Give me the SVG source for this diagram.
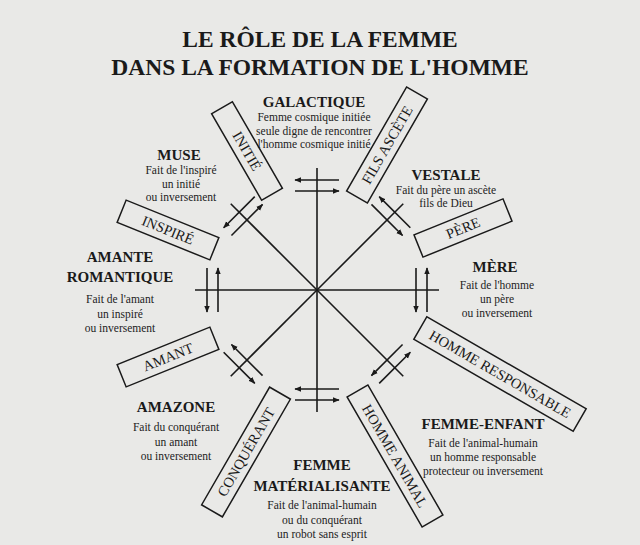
<svg xmlns="http://www.w3.org/2000/svg" width="640" height="545" viewBox="0 0 640 545">
<style>
.t{font-family:"Liberation Serif",serif;font-weight:bold;fill:#1a1a1a;text-anchor:middle}
.h{font-family:"Liberation Serif",serif;font-weight:bold;font-size:15px;fill:#1a1a1a;text-anchor:middle}
.d{font-family:"Liberation Serif",serif;font-size:11.5px;fill:#222;text-anchor:middle}
.b{fill:none;stroke:#1a1a1a;stroke-width:1.5}
.bt{font-family:"Liberation Serif",serif;font-size:14.5px;fill:#1a1a1a;text-anchor:middle;dominant-baseline:central}
.l{stroke:#1a1a1a;stroke-width:1.6;fill:none}
</style>
<defs>
<marker id="ah" viewBox="0 0 10 10" refX="9" refY="5" markerWidth="7" markerHeight="7" markerUnits="userSpaceOnUse" orient="auto"><path d="M0,1 L10,5 L0,9 Z" fill="#1a1a1a"/></marker>
<g id="arm">
<line class="l" x1="0" y1="0" x2="0" y2="-122"/>
<line class="l" x1="22" y1="-110" x2="-22" y2="-110" marker-end="url(#ah)"/>
<line class="l" x1="-22" y1="-99" x2="22" y2="-99" marker-end="url(#ah)"/>
</g>
</defs>
<rect width="640" height="545" fill="#e9e9e7"/>
<text class="t" x="320" y="47" font-size="23.5">LE RÔLE DE LA FEMME</text>
<text class="t" x="320" y="75" font-size="23.5">DANS LA FORMATION DE L'HOMME</text>
<g id="connectors" transform="translate(317,290)">
<use href="#arm"/>
<use href="#arm" transform="rotate(45)"/>
<use href="#arm" transform="rotate(90)"/>
<use href="#arm" transform="rotate(135)"/>
<use href="#arm" transform="rotate(180)"/>
<use href="#arm" transform="rotate(225)"/>
<use href="#arm" transform="rotate(270)"/>
<use href="#arm" transform="rotate(315)"/>
</g>
<g id="initie" transform="translate(247,151) rotate(60)"><rect class="b" x="-50" y="-12" width="100" height="24"/><text class="bt">INITIÉ</text></g>
<g id="fils" transform="translate(387,145) rotate(-60)"><rect class="b" x="-60" y="-12" width="120" height="24"/><text class="bt">FILS ASCÈTE</text></g>
<g id="pere" transform="translate(463,228) rotate(-22)"><rect class="b" x="-48" y="-12" width="96" height="24"/><text class="bt">PÈRE</text></g>
<g id="inspire" transform="translate(168,230) rotate(22)"><rect class="b" x="-50" y="-12" width="100" height="24"/><text class="bt">INSPIRÉ</text></g>
<g id="amant" transform="translate(168,357) rotate(-22)"><rect class="b" x="-50" y="-12" width="100" height="24"/><text class="bt">AMANT</text></g>
<g id="hresp" transform="translate(500,374) rotate(30)"><rect class="b" x="-92" y="-13" width="184" height="26"/><text class="bt">HOMME RESPONSABLE</text></g>
<g id="conq" transform="translate(246,452) rotate(-60)"><rect class="b" x="-68" y="-12" width="136" height="24"/><text class="bt">CONQUÉRANT</text></g>
<g id="hanim" transform="translate(395,456) rotate(60)"><rect class="b" x="-75" y="-12" width="150" height="24"/><text class="bt">HOMME ANIMAL</text></g>
<g id="galactique"><text class="h" x="314" y="107">GALACTIQUE</text><text class="d" x="314" y="121">Femme cosmique initiée</text><text class="d" x="314" y="135">seule digne de rencontrer</text><text class="d" x="314" y="148">l'homme cosmique initié</text></g>
<g id="muse"><text class="h" x="179" y="160">MUSE</text><text class="d" x="181" y="174">Fait de l'inspiré</text><text class="d" x="181" y="188">un initié</text><text class="d" x="181" y="201">ou inversement</text></g>
<g id="vestale"><text class="h" x="446" y="180">VESTALE</text><text class="d" x="446" y="194">Fait du père un ascète</text><text class="d" x="446" y="207">fils de Dieu</text></g>
<g id="mere"><text class="h" x="495" y="272">MÈRE</text><text class="d" x="497" y="289">Fait de l'homme</text><text class="d" x="497" y="303">un père</text><text class="d" x="497" y="317">ou inversement</text></g>
<g id="amante"><text class="h" x="120" y="262">AMANTE</text><text class="h" x="120" y="282">ROMANTIQUE</text><text class="d" x="120" y="303">Fait de l'amant</text><text class="d" x="120" y="318">un inspiré</text><text class="d" x="120" y="332">ou inversement</text></g>
<g id="amazone"><text class="h" x="176" y="412">AMAZONE</text><text class="d" x="176" y="431">Fait du conquérant</text><text class="d" x="176" y="446">un amant</text><text class="d" x="176" y="460">ou inversement</text></g>
<g id="enfant"><text class="h" x="483" y="429">FEMME-ENFANT</text><text class="d" x="483" y="447">Fait de l'animal-humain</text><text class="d" x="483" y="461">un homme responsable</text><text class="d" x="483" y="475">protecteur ou inversement</text></g>
<g id="materialisante"><text class="h" x="322" y="470">FEMME</text><text class="h" x="322" y="491">MATÉRIALISANTE</text><text class="d" x="322" y="509">Fait de l'animal-humain</text><text class="d" x="322" y="524">ou du conquérant</text><text class="d" x="322" y="538">un robot sans esprit</text></g>
</svg>
